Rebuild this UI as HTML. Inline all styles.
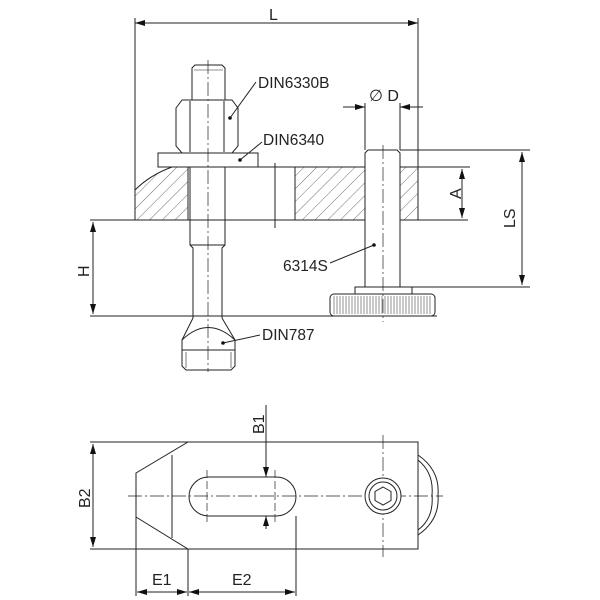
<!DOCTYPE html>
<html><head><meta charset="utf-8"><style>body{margin:0;background:#fff}svg{display:block}text{font-family:"Liberation Sans",sans-serif;fill:#222}</style></head><body>
<svg width="600" height="600" viewBox="0 0 600 600" xmlns="http://www.w3.org/2000/svg">
<defs>
<pattern id="h" patternUnits="userSpaceOnUse" width="9" height="9" patternTransform="rotate(45)"><line x1="0" y1="0" x2="0" y2="9" stroke="#333" stroke-width="0.7"/></pattern>
<marker id="a" viewBox="0 0 10 6" refX="10" refY="3" markerWidth="10" markerHeight="6" orient="auto-start-reverse" markerUnits="userSpaceOnUse"><path d="M0,0L10,3L0,6z" fill="#111"/></marker>
</defs>
<g stroke="#222" stroke-width="1" fill="none">
<line x1="135" y1="23" x2="418" y2="23" marker-start="url(#a)" marker-end="url(#a)"/>
<line x1="135" y1="18" x2="135" y2="220"/><line x1="418" y1="18" x2="418" y2="220"/>
<path d="M135,190 Q150,175 172,167 L188,167 L188,220 L135,220Z" fill="url(#h)"/>
<rect x="295" y="167" width="70" height="53" fill="url(#h)"/>
<rect x="400" y="167" width="18" height="53" fill="url(#h)"/>
<line x1="188" y1="167" x2="418" y2="167"/>
<line x1="275" y1="163" x2="275" y2="228"/>
<line x1="90" y1="220" x2="468" y2="220"/>
<line x1="90" y1="316" x2="437" y2="316"/>
<line x1="93" y1="222" x2="93" y2="314" marker-start="url(#a)" marker-end="url(#a)"/>
<path d="M192,100 L192,68 L195,65 L222,65 L225,68 L225,100" fill="#fff"/>
<line x1="194" y1="70" x2="223" y2="70" stroke-width="0.6"/>
<path d="M176,108 L182,100 L232,100 L238,108 L238,146 L232,153 L182,153 L176,146Z" fill="#fff"/>
<line x1="190" y1="101" x2="190" y2="152"/><line x1="224" y1="101" x2="224" y2="152"/>
<rect x="158" y="153" width="100" height="14" fill="#fff"/>
<path d="M190,167 L190,245 L193,248 L193,318 M225,167 L225,245 L222,248 L222,318" fill="none"/>
<line x1="190" y1="245" x2="225" y2="245"/>
<path d="M193,318 L182,340 L182,366 L186,370 L231,370 L235,366 L235,340 L222,318" fill="#fff"/>
<path d="M182,340 Q208,315 235,340" />
<line x1="182" y1="350" x2="235" y2="350"/>
<line x1="186" y1="352" x2="186" y2="368" stroke-width="0.6"/><line x1="231" y1="352" x2="231" y2="368" stroke-width="0.6"/>
<line x1="208" y1="60" x2="208" y2="372" stroke-dasharray="14,3,2,3" stroke-width="0.7"/>
<path d="M365,287 L365,153 L368,150 L397,150 L400,153 L400,287" fill="#fff"/>
<rect x="355" y="287" width="57" height="7" fill="#fff"/>
<rect x="330" y="294" width="105" height="22" rx="4" fill="#fff"/>
<g stroke-width="0.5">
<path d="M334,296V314M337,296V314M340,296V314M343,296V314M346,296V314M349,296V314M352,296V314M355,296V314M358,296V314M361,296V314M364,296V314M367,296V314M370,296V314M373,296V314M376,296V314M379,296V314M382,296V314M385,296V314M388,296V314M391,296V314M394,296V314M397,296V314M400,296V314M403,296V314M406,296V314M409,296V314M412,296V314M415,296V314M418,296V314M421,296V314M424,296V314M427,296V314M430,296V314"/>
</g>
<line x1="383" y1="145" x2="383" y2="322" stroke-dasharray="14,3,2,3" stroke-width="0.7"/>
<line x1="365" y1="103" x2="365" y2="150"/><line x1="400" y1="103" x2="400" y2="150"/>
<line x1="343" y1="107" x2="365" y2="107" marker-end="url(#a)"/>
<line x1="423" y1="107" x2="400" y2="107" marker-end="url(#a)"/>
<line x1="418" y1="167" x2="470" y2="167"/>
<line x1="462" y1="169" x2="462" y2="218" marker-start="url(#a)" marker-end="url(#a)"/>
<line x1="400" y1="150" x2="530" y2="150"/><line x1="412" y1="287" x2="530" y2="287"/>
<line x1="522" y1="152" x2="522" y2="285" marker-start="url(#a)" marker-end="url(#a)"/>
<line x1="230" y1="118" x2="256" y2="82"/>
<line x1="240" y1="160" x2="262" y2="142"/>
<line x1="374" y1="245" x2="330" y2="263"/>
<line x1="223" y1="343" x2="260" y2="335"/>
</g>
<g fill="#111"><circle cx="230" cy="118" r="1.8"/><circle cx="240" cy="160" r="1.8"/><circle cx="374" cy="245" r="1.8"/><circle cx="223" cy="343" r="1.8"/></g>
<text x="269" y="20" font-size="16">L</text>
<text x="258" y="88" font-size="15.5">DIN6330B</text>
<text x="263" y="145" font-size="15.5">DIN6340</text>
<text x="283" y="271" font-size="15.5">6314S</text>
<text x="262" y="340" font-size="15.5">DIN787</text>
<text x="369" y="101" font-size="16">∅ D</text>
<text transform="translate(461,199) rotate(-90)" font-size="16">A</text>
<text transform="translate(515,228) rotate(-90)" font-size="16">LS</text>
<text transform="translate(89,277) rotate(-90)" font-size="16">H</text>
<g stroke="#222" stroke-width="1" fill="none">
<path d="M188,442 L418,442 L418,549 L188,549 L136,517 L136,473 Z"/>
<line x1="172" y1="455" x2="172" y2="538"/>
<path d="M418,455 Q440,470 438,495 Q440,520 418,535"/>
<path d="M418,460 Q434,473 432,495 Q434,518 418,530"/>
<rect x="189" y="477" width="107" height="39" rx="19.5"/>
<line x1="128" y1="496" x2="443" y2="496" stroke-dasharray="14,3,2,3" stroke-width="0.7"/>
<line x1="207" y1="470" x2="207" y2="523" stroke-dasharray="8,3" stroke-width="0.7"/>
<line x1="275" y1="470" x2="275" y2="523" stroke-dasharray="8,3" stroke-width="0.7"/>
<line x1="383" y1="435" x2="383" y2="557" stroke-dasharray="14,3,2,3" stroke-width="0.7"/>
<circle cx="383" cy="496" r="18" fill="#fff"/><circle cx="383" cy="496" r="14"/>
<path d="M383,487 L391,491.5 L391,500.5 L383,505 L375,500.5 L375,491.5Z"/>
<line x1="266" y1="405" x2="266" y2="477" marker-end="url(#a)"/>
<line x1="266" y1="529" x2="266" y2="516" marker-end="url(#a)"/>
<line x1="90" y1="442" x2="188" y2="442"/><line x1="90" y1="549" x2="188" y2="549"/>
<line x1="93" y1="444" x2="93" y2="547" marker-start="url(#a)" marker-end="url(#a)"/>
<line x1="136" y1="517" x2="136" y2="596"/><line x1="188" y1="549" x2="188" y2="596"/><line x1="296" y1="516" x2="296" y2="596"/>
<line x1="137" y1="592" x2="187" y2="592" marker-start="url(#a)" marker-end="url(#a)"/>
<line x1="189" y1="592" x2="295" y2="592" marker-start="url(#a)" marker-end="url(#a)"/>
</g>
<text transform="translate(264,434) rotate(-90)" font-size="16">B1</text>
<text transform="translate(90,508) rotate(-90)" font-size="16">B2</text>
<text x="152" y="585" font-size="16">E1</text>
<text x="232" y="585" font-size="16">E2</text>
</svg>
</body></html>
